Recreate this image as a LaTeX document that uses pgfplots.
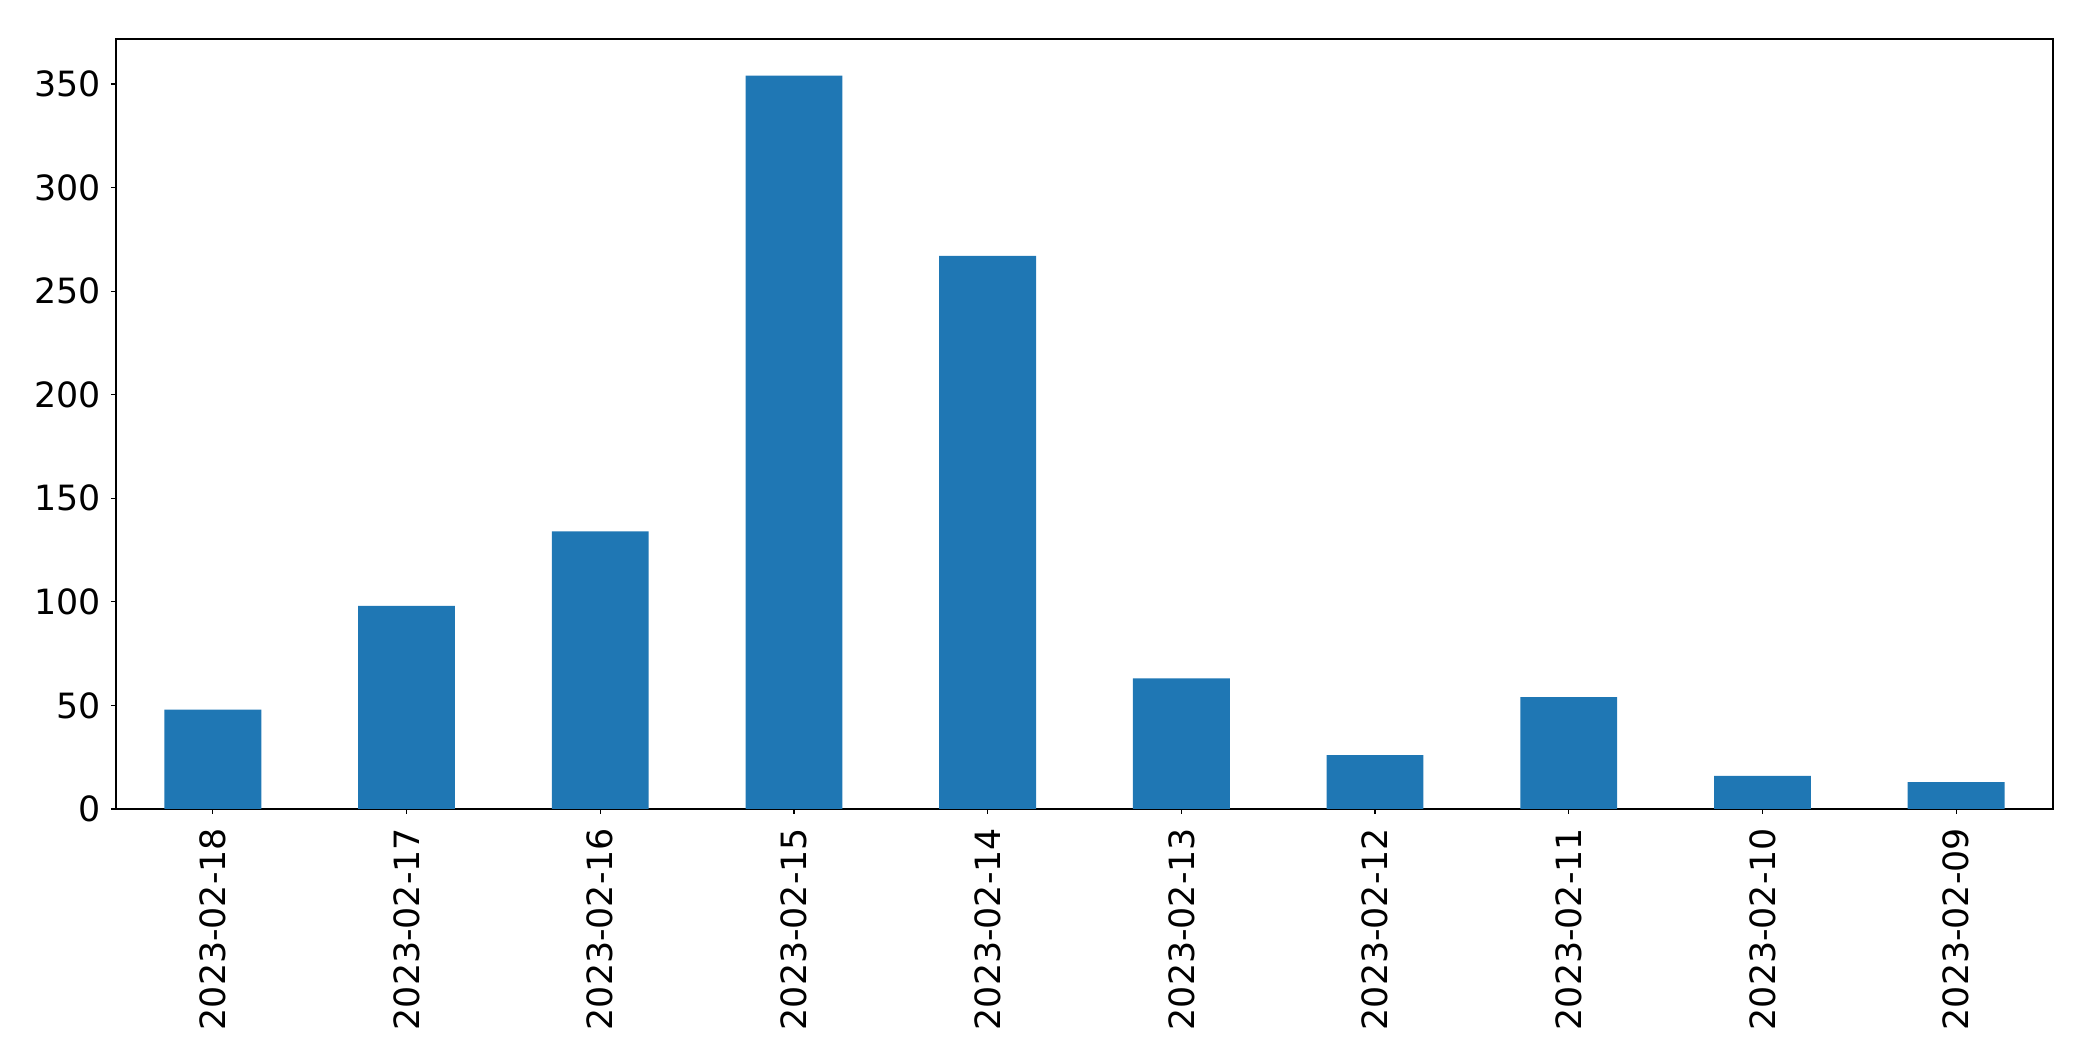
\documentclass[border=0pt]{standalone}
\usepackage{fontspec}
\setmainfont{DejaVu Sans}
\usepackage{pgfplots}
\pgfplotsset{compat=1.18}
\usetikzlibrary{calc}
\definecolor{mplblue}{HTML}{1F77B4}
\begin{document}
\fontsize{17.4}{20}\selectfont
\begin{tikzpicture}
\begin{axis}[
  name=ax,
  scale only axis,
  width=968.5pt, height=385pt,
  xmin=-0.5, xmax=9.5,
  ymin=0, ymax=371.7,
  xtick=data,
  xticklabels={2023-02-18,2023-02-17,2023-02-16,2023-02-15,2023-02-14,2023-02-13,2023-02-12,2023-02-11,2023-02-10,2023-02-09},
  ytick={0,50,100,150,200,250,300,350},
  /pgf/number format/assume math mode=true,
  tick label style={font=\fontsize{17.4}{20}\selectfont},
  x tick label style={rotate=90, anchor=east, xshift=0pt, inner sep=0pt, outer sep=0pt},
  xticklabel shift=7pt,
  y tick label style={inner sep=0pt},
  yticklabel shift=5pt,
  tick align=outside,
  major tick length=2.5pt,
  xtick pos=bottom, ytick pos=left,
  axis line style={line width=0.6pt},
  every tick/.style={black, line width=0.6pt},
  ybar, bar width=0.5,
]
\addplot[fill=mplblue, draw=none, bar width=0.5] coordinates {
(0,48) (1,98) (2,134) (3,354) (4,267) (5,63) (6,26) (7,54) (8,16) (9,13)
};
\end{axis}
\pgfresetboundingbox
\path ($(ax.south west)+(-58pt,-126pt)$) rectangle ($(ax.north east)+(20pt,19.5pt)$);
\end{tikzpicture}
\end{document}
